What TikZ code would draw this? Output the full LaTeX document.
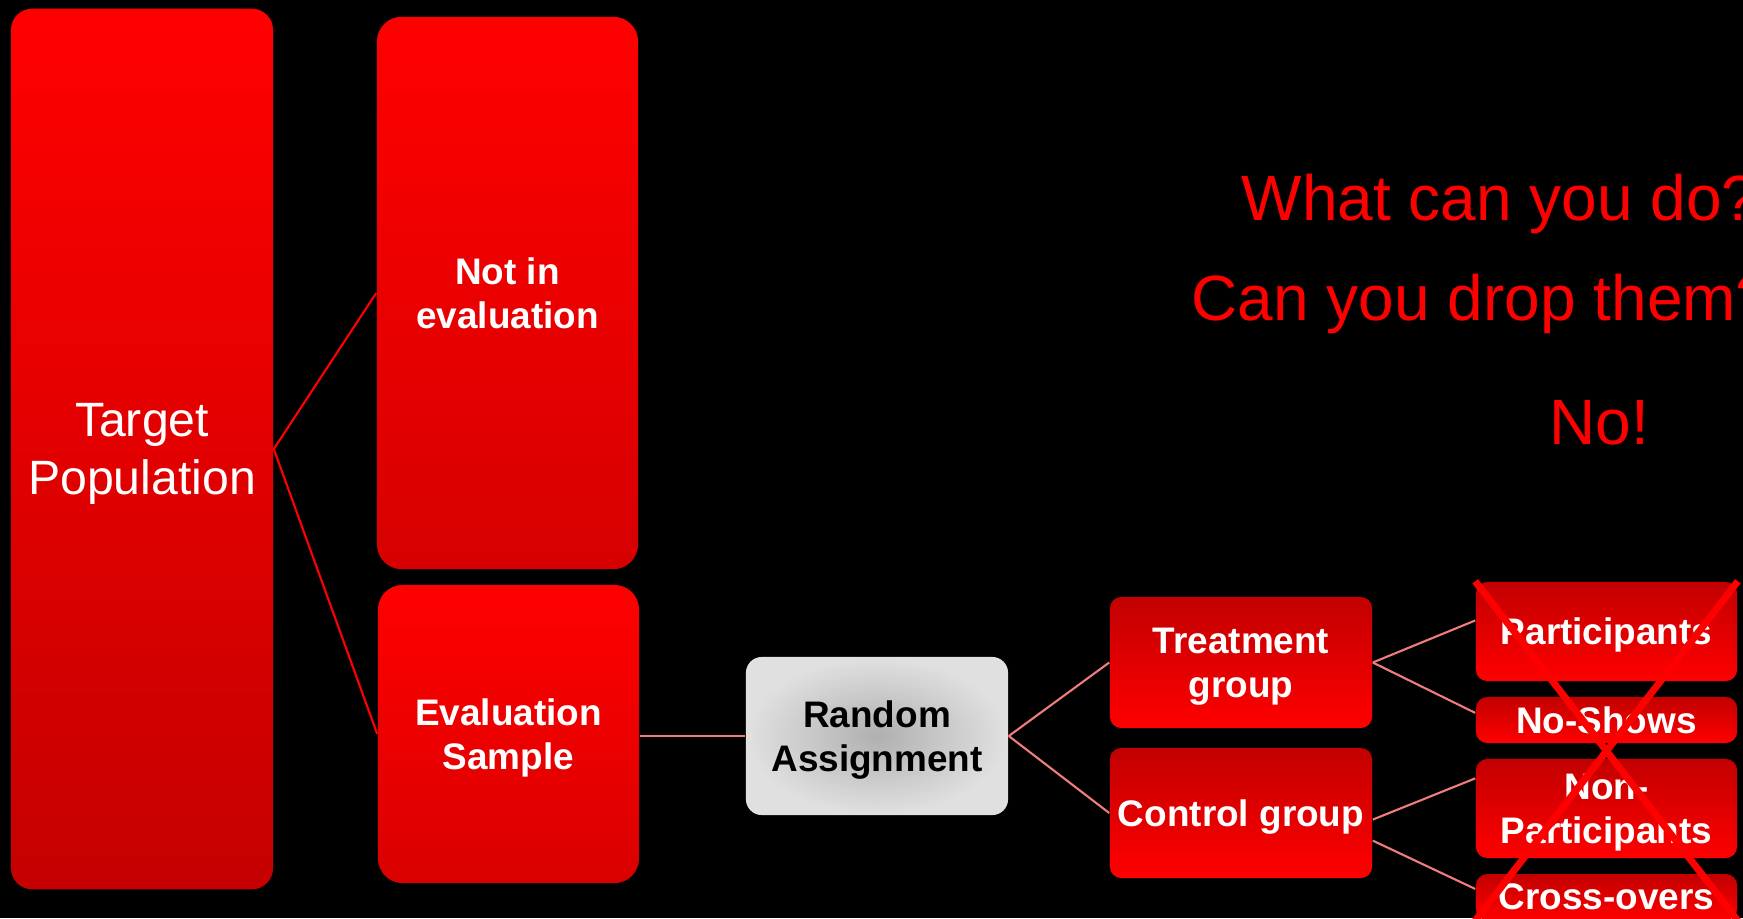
\documentclass[tikz,border=0pt]{standalone}
\usepackage{fontspec}
\setmainfont{Liberation Sans}
\usetikzlibrary{positioning,calc}
\definecolor{slidered}{HTML}{FF0000}
\definecolor{deepred}{HTML}{C20000}
\definecolor{linkpink}{HTML}{F07C7C}

\begin{document}
\begin{tikzpicture}[
    x=0.01cm, y=-0.01cm,
    bignode/.style={rounded corners=7pt, top color=slidered, bottom color=slidered!80!black, text=white, font=\fontsize{10.5}{12.6}\selectfont\bfseries, align=center, inner sep=0pt, text depth=0pt, minimum width=2.61cm},
    groupnode/.style={rounded corners=3.2pt, top color=deepred, bottom color=slidered, text=white, font=\fontsize{10.5}{12.6}\selectfont\bfseries, align=center, inner sep=0pt, text depth=0pt, minimum width=2.62cm},
    randnode/.style={rounded corners=4.5pt, shading=radial, inner color=black!31, outer color=black!12, text=black, font=\fontsize{10.5}{12.6}\selectfont\bfseries, align=center, inner sep=0pt, text depth=0pt, minimum width=2.62cm, minimum height=1.58cm},
    link/.style={draw=slidered, line width=0.6pt},
    sublink/.style={draw=linkpink, line width=0.6pt},
    crossout/.style={draw=slidered, line width=2pt},
    asktext/.style={text=slidered, font=\fontsize{18.2}{21}\selectfont, anchor=base west, inner sep=0pt}
]

    % Fondo nero della slide
    \useasboundingbox (0,0) rectangle (1743,918);
    \clip (0,0) rectangle (1743,918);
    \fill[black] (0,0) rectangle (1743,918);

    % Colonna 1: popolazione
    \node[bignode, rounded corners=6pt, bottom color=slidered!77!black, minimum width=2.62cm, minimum height=8.8cm, font=\fontsize{13.7}{16.4}\selectfont] (pop) at (142,449) {Target\\Population};

    % Colonna 2: chi entra nella valutazione
    \node[bignode, bottom color=slidered!84!black, minimum height=5.52cm] (notin) at (507.5,293) {Not in\\evaluation};
    \node[bignode, bottom color=slidered!85!black, minimum height=2.98cm] (evals) at (508.5,734) {Evaluation\\Sample};

    \draw[link] (pop.east) -- (notin.west);
    \draw[link] (pop.east) -- (evals.west);

    % Colonna 3: assegnazione casuale
    \node[randnode] (rand) at (877,736) {Random\\Assignment};
    \draw[sublink] (rand.west -| evals.east) -- (rand.west);

    % Colonna 4: gruppi
    \node[groupnode, minimum height=1.31cm] (treat) at (1241,662.5) {Treatment\\group};
    \node[groupnode, minimum height=1.30cm] (ctrl) at (1241,813) {Control group};

    \draw[sublink] (rand.east) -- (treat.west);
    \draw[sublink] (rand.east) -- (ctrl.west);

    % Colonna 5: sottogruppi (da non scartare)
    \node[groupnode, minimum width=2.61cm, minimum height=0.99cm] (part) at (1606.5,631.5) {Participants};
    \node[groupnode, minimum width=2.61cm, minimum height=0.46cm] (noshow) at (1606.5,720) {No-Shows};
    \node[groupnode, minimum width=2.61cm, minimum height=0.99cm] (nonpart) at (1606.5,808.5) {Non-\\Participants};
    \node[groupnode, minimum width=2.61cm, minimum height=0.46cm] (cross) at (1606.5,897) {Cross-overs};

    \draw[sublink] (treat.east) -- ($(part.north west)!0.39!(part.south west)$);
    \draw[sublink] (treat.east) -- ($(noshow.north west)!0.35!(noshow.south west)$);
    \draw[sublink] ($(ctrl.north east)!0.55!(ctrl.south east)$) -- ($(nonpart.north west)!0.2!(nonpart.south west)$);
    \draw[sublink] ($(ctrl.north east)!0.71!(ctrl.south east)$) -- ($(cross.north west)!0.33!(cross.south west)$);

    % La grande X sopra i sottogruppi
    \draw[crossout] (part.north west) -- (cross.south east);
    \draw[crossout] (part.north east) -- (cross.south west);

    % Domande in rosso
    \node[asktext] (ask) at (1241,220) {What can you do?};
    \node[asktext] (drop) at (1191,320) {Can you drop them?};
    \node[asktext] (no) at (1549,444) {No!};

\end{tikzpicture}
\end{document}
